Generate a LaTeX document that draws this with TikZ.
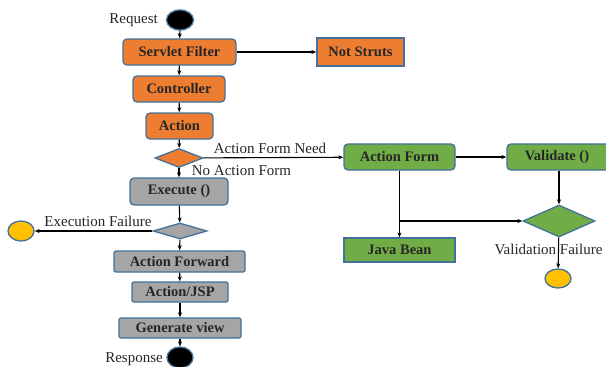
\documentclass[tikz,border=0pt]{standalone}
\usepackage{fontspec}
\setmainfont{Liberation Serif}
\usetikzlibrary{shapes.geometric,arrows.meta}
\definecolor{orangefill}{HTML}{ED7D31}
\definecolor{greyfill}{HTML}{A5A5A5}
\definecolor{greenfill}{HTML}{70AD47}
\definecolor{yellowfill}{HTML}{FFC000}
\definecolor{edgeblue}{HTML}{41719C}
\definecolor{inktext}{HTML}{262626}
\tikzset{
  box/.style={draw=edgeblue, line width=1.3pt, rectangle, inner sep=0pt,
    font=\fontsize{14.5}{16}\selectfont\bfseries, text=inktext},
  rbox/.style={box, rounded corners=4pt},
  obox/.style={fill=orangefill},
  gbox/.style={fill=greyfill},
  grbox/.style={fill=greenfill},
  decide/.style={diamond, draw=edgeblue, line width=1.3pt, inner sep=0pt},
  terminal/.style={ellipse, draw=edgeblue, line width=1.3pt, fill=black, inner sep=0pt},
  endfail/.style={ellipse, draw=edgeblue, line width=1.3pt, fill=yellowfill, inner sep=0pt},
  lbl/.style={font=\fontsize{15}{17}\selectfont, text=inktext, inner sep=0pt},
  flow/.style={draw=black, line width=1.1pt, -{Stealth[length=5pt,width=4pt]}},
  seg/.style={draw=black, line width=1.1pt}
}
\begin{document}
\begin{tikzpicture}[x=1pt,y=-1pt]
\useasboundingbox (0,0) rectangle (606,367);
\fill[white] (0,0) rectangle (606,367);

% main flow
\node[terminal, minimum width=27pt, minimum height=20pt] (req) at (180,20) {};
\node[lbl, anchor=east] (reqlbl) at (158,20) {Request};
\node[rbox, obox, minimum width=113pt, minimum height=26pt] (sf) at (179.5,52) {Servlet Filter};
\node[box, obox, minimum width=87pt, minimum height=28pt] (ns) at (360.5,52) {Not Struts};
\node[rbox, obox, minimum width=92pt, minimum height=26pt] (ctrl) at (179,89) {Controller};
\node[rbox, obox, minimum width=67pt, minimum height=26pt] (act) at (179.5,126) {Action};
\node[decide, fill=orangefill, minimum width=48pt, minimum height=19pt] (d1) at (179,158) {};
\node[rbox, gbox, minimum width=98pt, minimum height=27pt] (exec) at (179,191.5) {Execute ()};
\node[decide, fill=greyfill, minimum width=54pt, minimum height=16pt] (d2) at (180,231) {};
\node[endfail, minimum width=26pt, minimum height=20pt] (f1) at (21,231) {};
\node[rbox, gbox, rounded corners=2pt, minimum width=131pt, minimum height=21pt] (fwd) at (179.5,261.5) {Action Forward};
\node[rbox, gbox, rounded corners=2pt, minimum width=96pt, minimum height=20pt] (jsp) at (180,292) {Action/JSP};
\node[rbox, gbox, rounded corners=2pt, minimum width=122pt, minimum height=20pt] (gen) at (180,328) {Generate view};
\node[terminal, minimum width=26pt, minimum height=21pt] (resp) at (180,357.5) {};
\node[lbl, anchor=east] (resplbl) at (163,359) {Response};

% form branch
\node[rbox, grbox, minimum width=111pt, minimum height=26pt] (af) at (399.5,157) {Action Form};
\node[rbox, grbox, minimum width=106pt, minimum height=26pt] (val) at (560,157) {\hspace*{-6pt}Validate ()};
\node[decide, fill=greenfill, minimum width=72pt, minimum height=32pt] (d3) at (559,221) {};
\node[box, grbox, minimum width=111pt, minimum height=24pt] (jb) at (399.5,250) {Java Bean};
\node[endfail, minimum width=26pt, minimum height=19pt] (f2) at (558,278.5) {};
\coordinate (split) at (af.south |- d3.west);

% labels
\node[lbl] (lneed) at (270,148) {Action Form Need};
\node[lbl] (lno) at (241.5,171) {No Action Form};
\node[lbl] (lexf) at (98,221) {Execution Failure};
\node[lbl] (lvalf) at (548.5,249) {Validation Failure};

% connectors
\draw[flow] (req) -- (sf);
\draw[flow] (sf) -- (ns);
\draw[flow] (sf) -- (ctrl);
\draw[flow] (ctrl) -- (act);
\draw[flow] (act) -- (d1);
\draw[flow] (d1) -- (af);
\draw[flow] (d1) -- (exec);
\draw[flow] (exec) -- (d2);
\draw[flow] (d2) -- (f1);
\draw[flow] (d2) -- (fwd);
\draw[flow] (fwd) -- (jsp);
\draw[flow] (jsp) -- (gen);
\draw[flow] (gen) -- (resp);
\draw[flow] (af) -- (val);
\draw[flow] (val.south -| d3.north) -- (d3);
\draw[flow] (af) -- (jb);
\draw[flow] (split) -- (d3.west);
\draw[flow] (d3) -- (f2);
\end{tikzpicture}
\end{document}
